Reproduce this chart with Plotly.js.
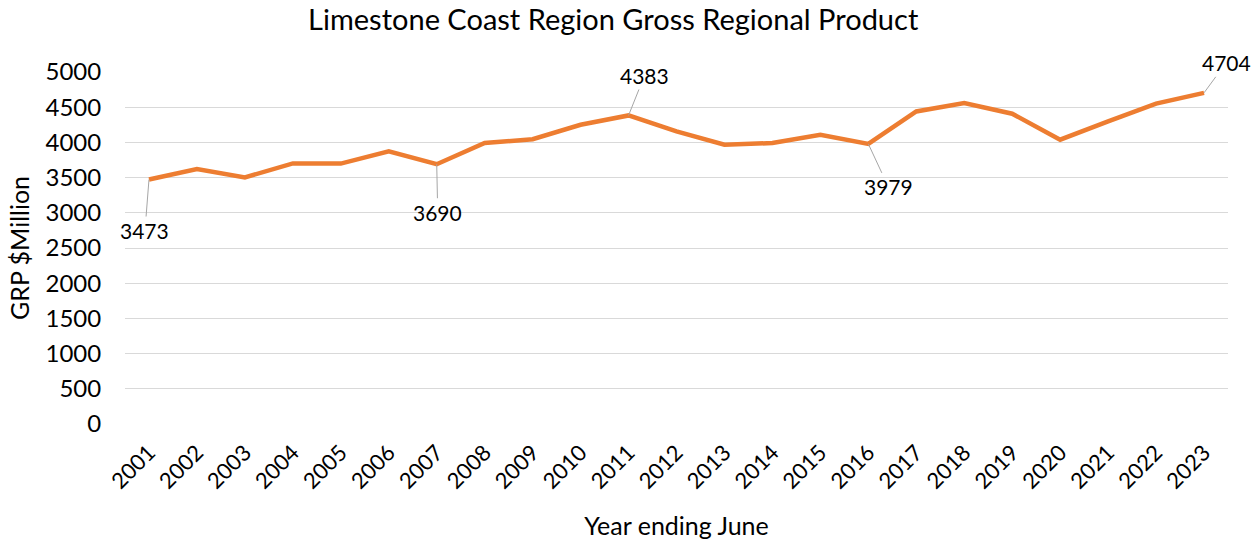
<!DOCTYPE html>
<html><head><meta charset="utf-8">
<script src="https://cdn.plot.ly/plotly-3.0.1.min.js"></script>
<style>html,body{margin:0;padding:0;background:#fff;}#chart{width:1254px;height:547px;}</style>
</head><body><div id="chart"></div>
<script>
const years = ['2001','2002','2003','2004','2005','2006','2007','2008','2009','2010','2011','2012','2013','2014','2015','2016','2017','2018','2019','2020','2021','2022','2023'];
const grp = [3473,3622,3503,3702,3699,3872,3690,3991,4045,4251,4383,4156,3967,3991,4109,3979,4440,4560,4408,4038,4298,4550,4704];
const labelYears = ['2001','2007','2011','2016','2023'];
const labelOffsets = [[-4,51],[1,48],[16,-40],[20,43],[22,-30]];

const FONT = 'Lato, "Open Sans", sans-serif';
const annotations = labelYears.map((y,i)=>{
  const idx = years.indexOf(y);
  const v = grp[idx];
  return {x:idx, y:v, xref:'x', yref:'y', text:String(v), showarrow:true, arrowhead:0,
    arrowwidth:1, arrowcolor:'#a6a6a6', ax:labelOffsets[i][0], ay:labelOffsets[i][1],
    font:{family:FONT, size:21, color:'#000'}, standoff:0};
});

Plotly.newPlot('chart', [{
  x: years, y: grp, type:'scatter', mode:'lines',
  line:{color:'#ED7D31', width:4.5}, hoverinfo:'x+y'
}], {
  width:1254, height:547,
  margin:{l:125, r:26, t:72, b:123},
  paper_bgcolor:'#fff', plot_bgcolor:'#fff',
  title:{text:'Limestone Coast Region Gross Regional Product', x:0.489, xanchor:'center', y:0.963, yanchor:'middle',
    font:{family:FONT, size:29, color:'#000'}},
  font:{family:FONT, color:'#000'},
  xaxis:{type:'category', range:[-0.5, 22.5], tickangle:-45, tickfont:{size:22, family:FONT, color:'#000'},
    showgrid:false, zeroline:false, showline:false, ticks:'outside', ticklen:6, tickcolor:'rgba(0,0,0,0)',
    title:{text:'Year ending June', font:{size:25, family:FONT, color:'#000'}, standoff:24}},
  yaxis:{range:[0,5000], dtick:500, tickfont:{size:24, family:FONT, color:'#000'},
    gridcolor:'#d9d9d9', gridwidth:1, zeroline:false, showline:false, ticks:'outside', ticklen:18, tickcolor:'rgba(0,0,0,0)',
    title:{text:'GRP $Million', font:{size:25, family:FONT, color:'#000'}, standoff:8}},
  annotations: annotations,
  showlegend:false
}, {displayModeBar:false, staticPlot:true});
</script></body></html>
